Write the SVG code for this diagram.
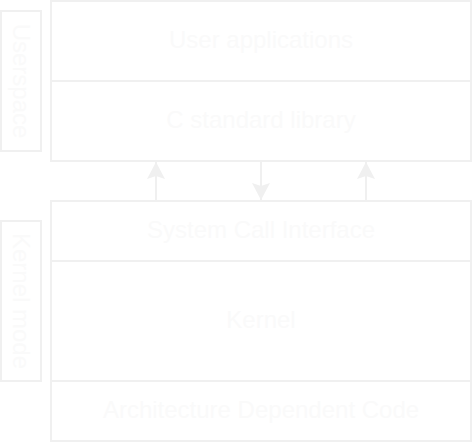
<svg xmlns="http://www.w3.org/2000/svg" width="474" height="442" viewBox="0 0 474 442">
<style>
.box{fill:#ffffff;stroke:#f0f0f0;stroke-width:2}
.lbl{fill:none;stroke:#f0f0f0;stroke-width:2}
.t{font-family:"Liberation Sans",Arial,sans-serif;font-size:24px;fill:#fafafa;text-anchor:middle}
.c{fill:none;stroke:#f0f0f0;stroke-width:2}
</style>
<defs>
<marker id="ah" markerUnits="userSpaceOnUse" markerWidth="20" markerHeight="20" viewBox="-1 -10 19 20" refX="17" refY="0" orient="auto">
<path d="M17,0 L0,-9 L3,0 L0,9 Z" fill="#f0f0f0"/>
</marker>
</defs>
<rect width="474" height="442" fill="#ffffff"/>
<g id="userspace-label">
<rect class="lbl" x="1" y="11" width="40" height="140"/>
<text class="t" transform="translate(21,81) rotate(90)" y="8.5">Userspace</text>
</g>
<g id="kernelmode-label">
<rect class="lbl" x="1" y="221" width="40" height="160"/>
<text class="t" transform="translate(21,301) rotate(90)" y="8.5">Kernel mode</text>
</g>
<g id="user-applications">
<rect class="box" x="51" y="1" width="420" height="80"/>
<text class="t" x="261" y="48">User applications</text>
</g>
<g id="c-standard-library">
<rect class="box" x="51" y="81" width="420" height="80"/>
<text class="t" x="261" y="128">C standard library</text>
</g>
<g id="system-call-interface">
<rect class="box" x="51" y="201" width="420" height="60"/>
<text class="t" x="261" y="238">System Call Interface</text>
</g>
<g id="kernel">
<rect class="box" x="51" y="261" width="420" height="120"/>
<text class="t" x="261" y="328">Kernel</text>
</g>
<g id="arch-code">
<rect class="box" x="51" y="381" width="420" height="60"/>
<text class="t" x="261" y="418">Architecture Dependent Code</text>
</g>
<g id="connectors">
<line class="c" x1="156" y1="201" x2="156" y2="162" marker-end="url(#ah)"/>
<line class="c" x1="261" y1="161" x2="261" y2="200" marker-end="url(#ah)"/>
<line class="c" x1="366" y1="201" x2="366" y2="162" marker-end="url(#ah)"/>
</g>
</svg>
